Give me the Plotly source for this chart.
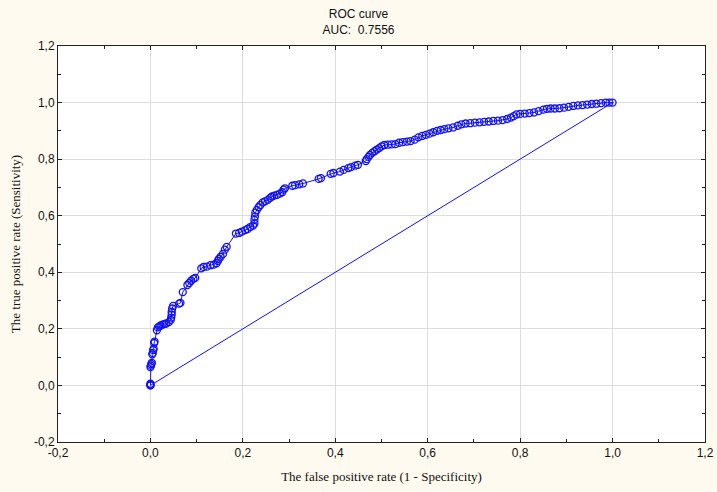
import plotly.graph_objects as go

fpr = [0, 0, 0, 0, 0.0, 0.001, 0.002, 0.003, 0.004, 0.005, 0.006, 0.007, 0.008, 0.009,
       0.014, 0.016, 0.019, 0.022, 0.026, 0.03, 0.034, 0.04, 0.044, 0.045, 0.046, 0.046,
       0.047, 0.049, 0.062, 0.065, 0.07, 0.08, 0.084, 0.088, 0.093, 0.097, 0.11, 0.115,
       0.122, 0.13, 0.137, 0.143, 0.146, 0.148, 0.152, 0.157, 0.161, 0.165, 0.185, 0.192,
       0.198, 0.205, 0.21, 0.216, 0.222, 0.225, 0.225, 0.226, 0.227, 0.23, 0.234, 0.238,
       0.243, 0.248, 0.254, 0.259, 0.263, 0.268, 0.274, 0.28, 0.285, 0.288, 0.291, 0.307,
       0.313, 0.322, 0.33, 0.364, 0.369, 0.39, 0.396, 0.41, 0.418, 0.428, 0.434, 0.443,
       0.449, 0.466, 0.468, 0.472, 0.475, 0.48, 0.485, 0.49, 0.495, 0.5, 0.506, 0.514,
       0.522, 0.53, 0.538, 0.546, 0.555, 0.563, 0.572, 0.58, 0.588, 0.596, 0.604, 0.612,
       0.62, 0.628, 0.636, 0.645, 0.655, 0.665, 0.673, 0.682, 0.692, 0.702, 0.712, 0.722,
       0.732, 0.742, 0.752, 0.762, 0.772, 0.78, 0.786, 0.792, 0.8, 0.81, 0.82, 0.83, 0.84,
       0.85, 0.858, 0.866, 0.875, 0.885, 0.895, 0.905, 0.915, 0.925, 0.935, 0.945, 0.955,
       0.965, 0.975, 0.985, 0.993, 1.0]
tpr = [0, 0, 0.003, 0.006, 0.065, 0.07, 0.075, 0.08, 0.11, 0.115, 0.125, 0.13, 0.15, 0.155,
       0.195, 0.205, 0.208, 0.212, 0.215, 0.217, 0.219, 0.224, 0.232, 0.24, 0.25, 0.26,
       0.272, 0.281, 0.289, 0.292, 0.33, 0.355, 0.362, 0.37, 0.377, 0.38, 0.414, 0.419,
       0.42, 0.425, 0.427, 0.432, 0.44, 0.447, 0.455, 0.465, 0.48, 0.49, 0.537, 0.539,
       0.544, 0.549, 0.553, 0.56, 0.565, 0.572, 0.585, 0.597, 0.611, 0.62, 0.63, 0.638,
       0.647, 0.651, 0.656, 0.663, 0.668, 0.671, 0.674, 0.678, 0.683, 0.692, 0.697, 0.706,
       0.708, 0.711, 0.714, 0.73, 0.733, 0.748, 0.751, 0.756, 0.762, 0.768, 0.772, 0.777,
       0.78, 0.793, 0.8, 0.808, 0.815, 0.822, 0.828, 0.834, 0.839, 0.845, 0.85, 0.851,
       0.852, 0.853, 0.858, 0.86, 0.862, 0.864, 0.869, 0.877, 0.882, 0.886, 0.89, 0.895,
       0.9, 0.903, 0.906, 0.909, 0.912, 0.918, 0.923, 0.926, 0.927, 0.929, 0.93, 0.932,
       0.933, 0.935, 0.936, 0.938, 0.942, 0.947, 0.952, 0.958, 0.96, 0.961, 0.963, 0.965,
       0.97, 0.975, 0.978, 0.979, 0.979, 0.98, 0.982, 0.985, 0.988, 0.99, 0.991, 0.993,
       0.995, 0.996, 0.998, 1.0, 1.0, 1.0]

diag_x = [0, 1]
diag_y = [0, 1]

tick_vals = [-0.2, 0.0, 0.2, 0.4, 0.6, 0.8, 1.0, 1.2]
tick_text = ["-0,2", "0,0", "0,2", "0,4", "0,6", "0,8", "1,0", "1,2"]

title_text = "ROC curve<br>AUC:  0.7556"
x_title = "The false positive rate (1 - Specificity)"
y_title = "The true positive rate (Sensitivity)"

blue = "#0f0fff"
bg = "#fffaf0"

fig = go.Figure()
fig.add_trace(go.Scatter(x=diag_x, y=diag_y, mode="lines",
                         line=dict(color=blue, width=1), showlegend=False))
fig.add_trace(go.Scatter(x=fpr, y=tpr, mode="lines+markers",
                         line=dict(color=blue, width=1),
                         marker=dict(symbol="circle-open", size=7, color=blue,
                                     line=dict(width=1.3, color=blue)),
                         showlegend=False))

axis_common = dict(
    range=[-0.2, 1.2], tickmode="array", tickvals=tick_vals, ticktext=tick_text,
    showgrid=True, gridcolor="#dddddd", gridwidth=1.2, zeroline=False,
    showline=True, linecolor="#222222", linewidth=1, mirror="ticks",
    ticks="inside", ticklen=4, tickcolor="#222222", automargin=False,
    minor=dict(dtick=0.1, tick0=0, ticks="inside", ticklen=3, tickcolor="#222222",
               showgrid=False),
    tickfont=dict(family="Liberation Sans, Arial, sans-serif", size=12, color="#111111"),
)

serif = "Liberation Serif, DejaVu Serif, serif"
fig.update_xaxes(**axis_common,
                 title=dict(text=x_title, standoff=12,
                            font=dict(family=serif, size=13, color="#111111")))
fig.update_yaxes(**axis_common,
                 title=dict(text=y_title, standoff=10,
                            font=dict(family=serif, size=13, color="#111111")))

fig.update_layout(
    width=717, height=492,
    margin=dict(l=58, r=12, t=46, b=50),
    paper_bgcolor=bg, plot_bgcolor="#ffffff",
    title=dict(text=title_text, x=0.5, xref="container", xanchor="center",
               y=0.963, yref="container", yanchor="top",
               font=dict(family="Liberation Sans, Arial, sans-serif", size=12, color="#111111")),
)

fig.write_html("out.html",
               config={"displayModeBar": False},
               post_script="document.body.style.margin='0';"
                           "document.body.style.overflow='hidden';"
                           "document.body.style.background='" + bg + "';")
